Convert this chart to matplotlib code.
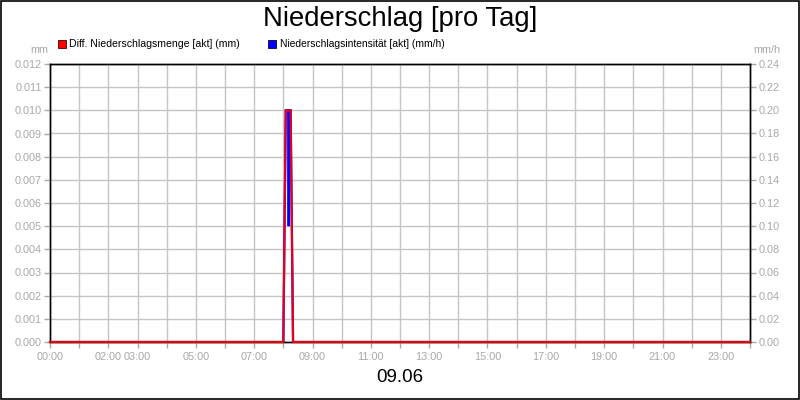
import matplotlib
matplotlib.use("Agg")
import matplotlib.pyplot as plt
from matplotlib.patches import Rectangle

plt.rcParams['font.family'] = ['Liberation Sans', 'DejaVu Sans']

# ---- data ----
title = "Niederschlag [pro Tag]"
date_label = "09.06"
red_label = "Diff. Niederschlagsmenge [akt] (mm)"
blue_label = "Niederschlagsintensität [akt] (mm/h)"

red_times = ["00:00", "08:00", "08:05", "08:10", "08:15", "08:20", "24:00"]
red_values = [0.0, 0.0, 0.010, 0.010, 0.010, 0.0, 0.0]

blue_times = ["00:00", "08:00", "08:05", "08:10", "08:11", "08:12", "08:15", "08:20", "24:00"]
blue_values = [0.0, 0.0, 0.20, 0.20, 0.10, 0.20, 0.20, 0.0, 0.0]

x_tick_hours = list(range(0, 25))
x_tick_labels = ["00:00", "", "02:00", "03:00", "", "05:00", "", "07:00", "", "09:00", "",
                 "11:00", "", "13:00", "", "15:00", "", "17:00", "", "19:00", "",
                 "21:00", "", "23:00", ""]
left_ticks = [i / 1000 for i in range(0, 13)]
right_ticks = [i / 100 for i in range(0, 25, 2)]


def to_hours(t):
    h, m = t.split(":")
    return int(h) + int(m) / 60.0


rx = [to_hours(t) for t in red_times]
bx = [to_hours(t) for t in blue_times]

grey = "#a8a8a8"
gridc = "#c4c4c4"

fig = plt.figure(figsize=(8, 4), dpi=100)
fig.patch.set_facecolor("white")
ax = fig.add_axes([0.0625, 0.145, 0.875, 0.695])
ax2 = ax.twinx()

# blue on right axis (bottom layer), red on left axis above it
ax.set_zorder(ax2.get_zorder() + 1)
ax.patch.set_visible(False)

ax2.set_axisbelow(True)
ax2.grid(True, axis="y", color=gridc, lw=1)
for h in x_tick_hours[1:-1]:
    ax2.axvline(h, color=gridc, lw=1, zorder=0.5)

ax2.plot(bx, blue_values, color="#0000ff", lw=1.6, solid_joinstyle="miter")
ax.plot(rx, red_values, color="#ff0000", lw=1.6, alpha=0.9, solid_joinstyle="miter",
        clip_on=False, zorder=5)

ax.set_xlim(0, 24)
ax.set_ylim(0, 0.012)
ax2.set_ylim(0, 0.24)

ax.set_xticks(x_tick_hours)
ax.set_xticklabels(x_tick_labels)
ax.set_yticks(left_ticks)
ax.set_yticklabels([f"{v:.3f}" for v in left_ticks])
ax2.set_yticks(right_ticks)
ax2.set_yticklabels([f"{v:.2f}" for v in right_ticks])

for a in (ax, ax2):
    for s in a.spines.values():
        s.set_color("black")
        s.set_linewidth(1.0)
ax.tick_params(axis="both", colors=grey, labelsize=7.8, length=4, width=1, pad=2)
ax2.tick_params(axis="y", colors=grey, labelsize=7.8, length=4, width=1, pad=2)
ax.tick_params(axis="x", pad=3)

fig.text(0.5, 0.952, title, ha="center", va="center", fontsize=19.8)
fig.text(0.5, 0.055, date_label, ha="center", va="center", fontsize=13.5)
fig.text(0.06, 0.875, "mm", ha="right", va="center", fontsize=7.8, color=grey)
fig.text(0.941, 0.875, "mm/h", ha="left", va="center", fontsize=7.8, color=grey)

# legend
fig.patches.append(Rectangle((58 / 800, 1 - 48 / 400), 8 / 800, 8 / 400, transform=fig.transFigure,
                             facecolor="#ff0000", edgecolor="#400000", lw=0.6))
fig.text(69 / 800, 1 - 44 / 400, red_label, ha="left", va="center", fontsize=7.6)
fig.patches.append(Rectangle((268 / 800, 1 - 48 / 400), 8 / 800, 8 / 400, transform=fig.transFigure,
                             facecolor="#0000ff", edgecolor="#000040", lw=0.6))
fig.text(280 / 800, 1 - 44 / 400, blue_label, ha="left", va="center", fontsize=7.4)

# figure border
fig.patches.append(Rectangle((0.001, 0.002), 0.998, 0.996, transform=fig.transFigure,
                             facecolor="none", edgecolor="black", lw=1.2))

fig.savefig("out.png", dpi=100)
